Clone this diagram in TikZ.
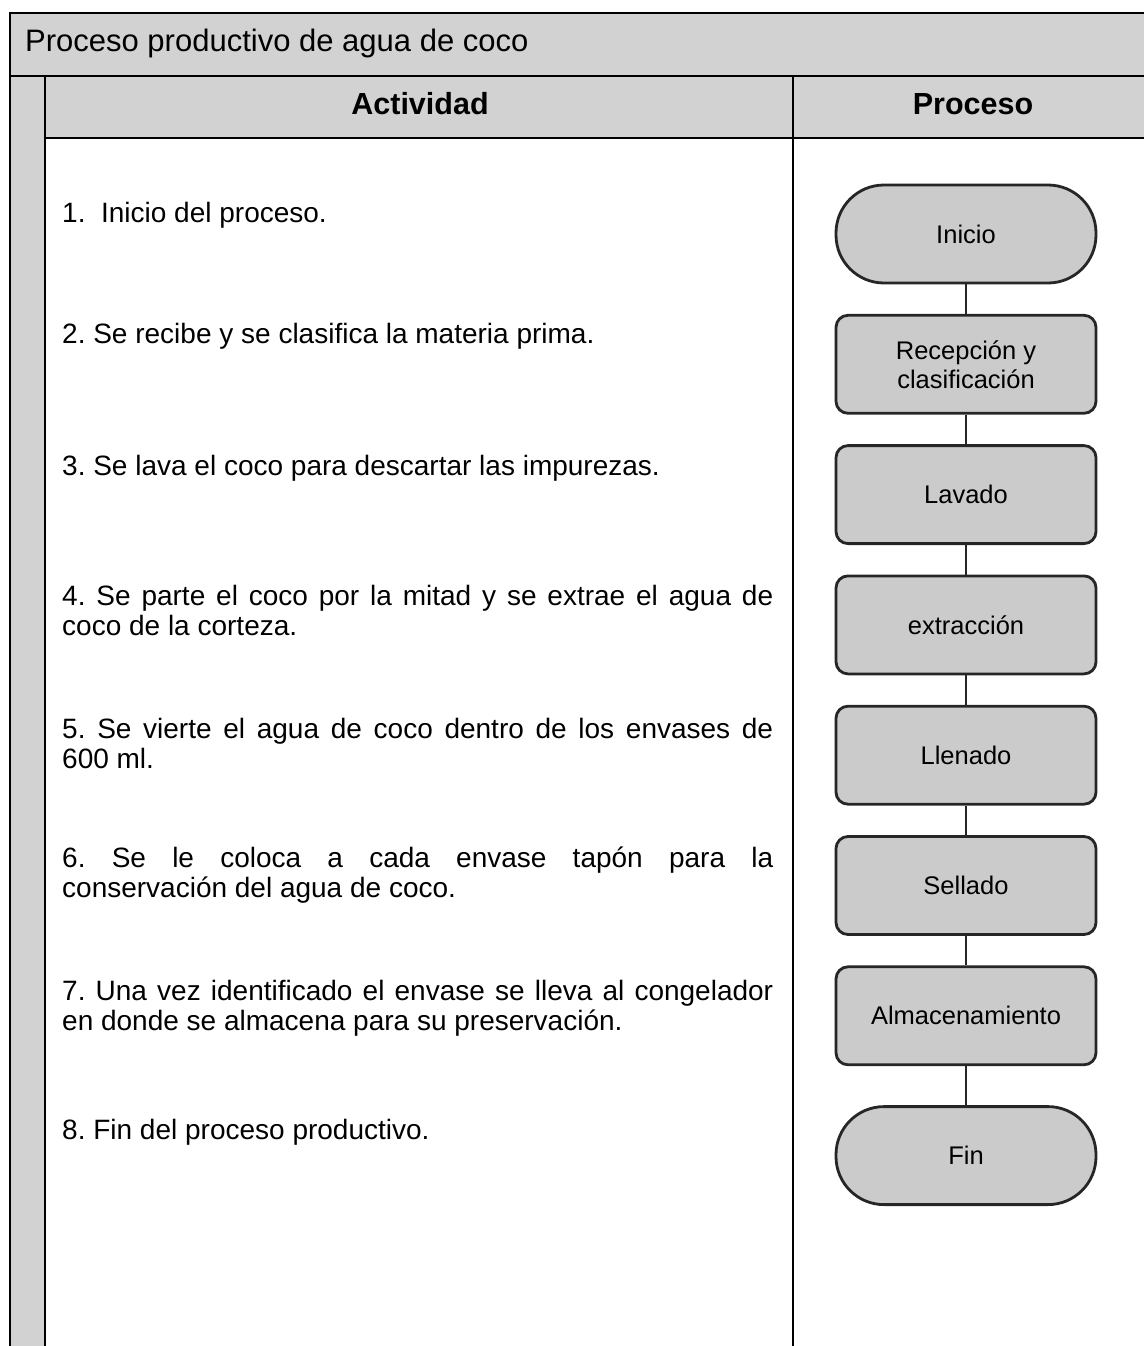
\documentclass[tikz,border=0pt]{standalone}
\usepackage{fontspec}
\setmainfont{Liberation Sans}
\usepackage{tikz}
\usetikzlibrary{positioning}
\usepackage{xcolor}
\definecolor{ScanGray}{HTML}{D2D2D2}
\definecolor{BoxGray}{HTML}{CBCBCB}
\tolerance=10000
\hbadness=10000
\frenchspacing

\begin{document}
\begin{tikzpicture}[x=1pt,y=-1pt,node distance=29.5pt,every node/.style={inner sep=0pt},
    band/.style={fill=ScanGray,draw=black,line width=2.4pt},
    paso/.style={draw=black!85,line width=2.8pt,fill=BoxGray,rounded corners=12pt,minimum width=260pt,minimum height=98pt,align=center,font=\fontsize{25.5}{29}\selectfont},
    extremo/.style={paso,rounded corners=48pt},
    actividad/.style={anchor=base west,text width=711pt,align=justify,font=\fontsize{28}{30}\selectfont},
    encabezado/.style={anchor=base,font=\bfseries\fontsize{30.5}{32}\selectfont},
    conector/.style={draw=black!85,line width=2.6pt}]
    \useasboundingbox (0,0) rectangle (1143,1346);
    \fill[ScanGray] (10,76) rectangle (45,1346);
    \draw[line width=2pt] (10,76) -- (10,1346) (45,76) -- (45,1346);
    \draw[band] (10,13) rectangle (1160,76);
    \draw[band] (45,76) rectangle (1160,138);
    \draw[line width=1.6pt] (793,76) -- (793,1346);
    \node[anchor=base west,font=\fontsize{31}{32}\selectfont] (titulo) at (25,52) {Proceso productivo de agua de coco};
    \node[encabezado] (hactividad) at (420,114) {Actividad};
    \node[encabezado] (hproceso) at (973,114) {Proceso};
    \node[actividad] (act1) at (62,222) {1.\ \ Inicio del proceso.};
    \node[actividad] (act2) at (62,343) {2. Se recibe y se clasifica la materia prima.};
    \node[actividad] (act3) at (62,475) {3. Se lava el coco para descartar las impurezas.};
    \node[actividad] (act4) at (62,605) {4. Se parte el coco por la mitad y se extrae el agua de\linebreak coco de la corteza.};
    \node[actividad] (act5) at (62,738) {5. Se vierte el agua de coco dentro de los envases de\linebreak 600 ml.};
    \node[actividad] (act6) at (62,867) {6. Se le coloca a cada envase tapón para la\linebreak conservación del agua de coco.};
    \node[actividad] (act7) at (62,1000) {7. Una vez identificado el envase se lleva al congelador\linebreak en donde se almacena para su preservación.};
    \node[actividad] (act8) at (62,1139) {8. Fin del proceso productivo.};
    \node[extremo] (inicio) at (966,234) {Inicio};
    \node[paso,below=of inicio] (recepcion) {Recepción y\\clasificación};
    \node[paso,below=of recepcion] (lavado) {Lavado};
    \node[paso,below=of lavado] (extraccion) {extracción};
    \node[paso,below=of extraccion] (llenado) {Llenado};
    \node[paso,below=of llenado] (sellado) {Sellado};
    \node[paso,below=of sellado] (almacen) {Almacenamiento};
    \node[extremo,below=39pt of almacen] (fin) {Fin};
    \foreach \x/\y in {inicio/recepcion,recepcion/lavado,lavado/extraccion,extraccion/llenado,llenado/sellado,sellado/almacen,almacen/fin}{\draw[conector] (\x)--(\y);}
\end{tikzpicture}
\end{document}
